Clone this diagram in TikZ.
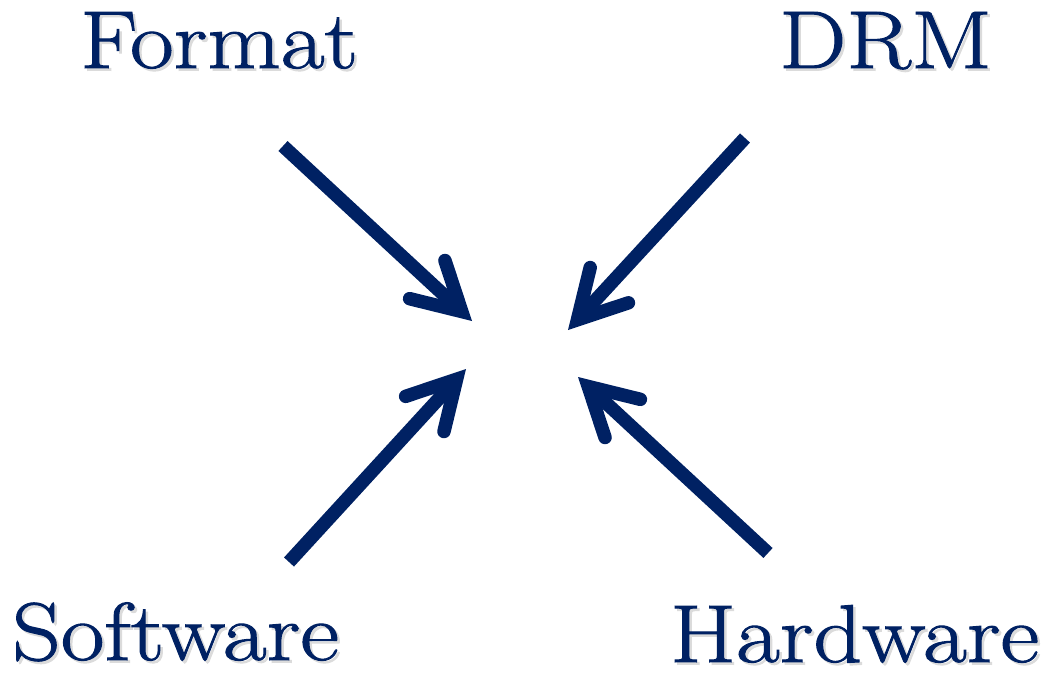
\documentclass[tikz,border=0pt]{standalone}
\usepackage{fontspec}
\usetikzlibrary{arrows.meta}

\newfontface\titlefont{Latin Modern Roman}[FakeStretch=1.16, FakeBold=1.2]
\definecolor{navy}{RGB}{0,33,99}

\begin{document}
\begin{tikzpicture}[
    x=1pt, y=-1pt,
    label/.style={anchor=base west, inner sep=0pt, text=navy,
        font=\titlefont\fontsize{82}{90}\selectfont}, % big title words
    shade/.style={label, text=black!14}, % soft drop shadow of the words
    pointer/.style={navy, line width=13.5pt,
        -{Straight Barb[length=47pt, width=52pt, line cap=round, line join=miter]}}
]

    % === Frame ===
    \useasboundingbox (0,0) rectangle (1059,674);

    % === Words (shadow first, then text) ===
    \node[shade] (format-sh)   at (82.5,70.5)  {Format};
    \node[label] (format)      at (80,68)      {Format};
    \node[shade] (drm-sh)      at (781.5,70.5) {DRM};
    \node[label] (drm)         at (779,68)     {DRM};
    \node[shade] (software-sh) at (14.5,662.5) {Software};
    \node[label] (software)    at (12,660)     {Software};
    \node[shade] (hardware-sh) at (672.5,664.5) {Hardware};
    \node[label] (hardware)    at (670,662)    {Hardware};

    % === Arrow ends ===
    \coordinate (format-tail)   at (283,146);
    \coordinate (format-tip)    at (472,321);
    \coordinate (drm-tail)      at (745,138);
    \coordinate (drm-tip)       at (568,330);
    \coordinate (software-tail) at (289,562);
    \coordinate (software-tip)  at (466,369);
    \coordinate (hardware-tail) at (768,553);
    \coordinate (hardware-tip)  at (578,377);

    % === Arrows ===
    \draw[pointer] (format-tail) -- (format-tip);
    \draw[pointer] (drm-tail) -- (drm-tip);
    \draw[pointer] (software-tail) -- (software-tip);
    \draw[pointer] (hardware-tail) -- (hardware-tip);

\end{tikzpicture}
\end{document}
